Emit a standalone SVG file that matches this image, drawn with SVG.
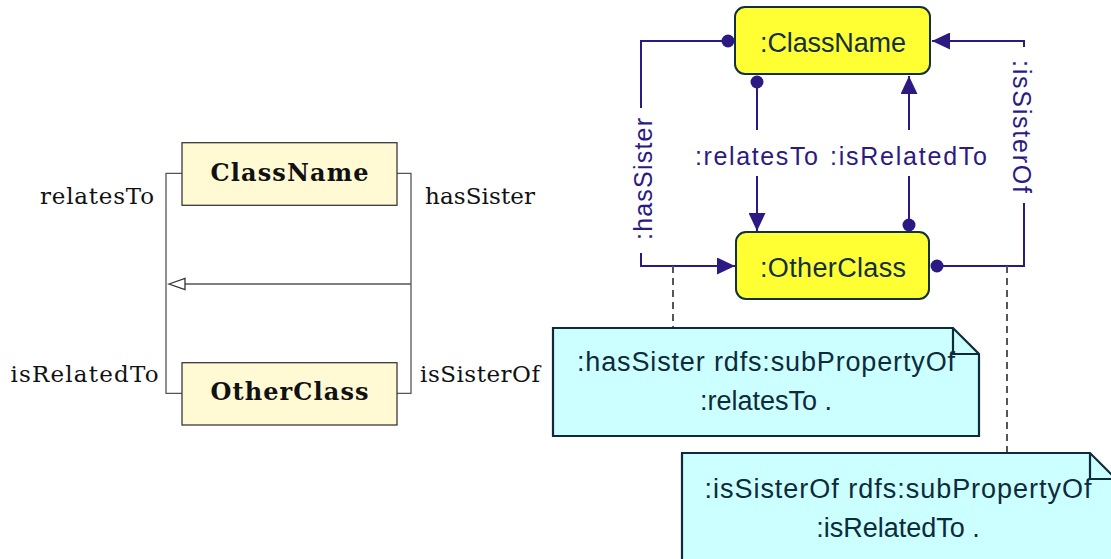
<svg xmlns="http://www.w3.org/2000/svg" width="1111" height="559" viewBox="0 0 1111 559">
<style>
.umlbox{fill:#fffad4;stroke:#3a3a3a;stroke-width:1.3}
.umlline{fill:none;stroke:#555;stroke-width:1.3}
.serif{font-family:"DejaVu Serif","Liberation Serif",serif;font-size:23px;fill:#111}
.serifb{font-family:"DejaVu Serif","Liberation Serif",serif;font-size:24px;font-weight:bold;fill:#111}
.node{fill:#ffff33;stroke:#12303e;stroke-width:2}
.ntext{font-family:"Liberation Sans",Arial,sans-serif;font-size:27px;fill:#12303e;text-anchor:middle}
.conn{fill:none;stroke:#2c1a82;stroke-width:2}
.dot{fill:#2c1a82}
.lbl{font-family:"Liberation Sans",Arial,sans-serif;font-size:25px;fill:#2c1a82;text-anchor:middle}
.dash{fill:none;stroke:#555;stroke-width:2;stroke-dasharray:7,5}
.note{fill:#ccffff;stroke:#0d2b3b;stroke-width:2.2}
.fold{fill:none;stroke:#0d2b3b;stroke-width:2.2}
.notetext{font-family:"Liberation Sans",Arial,sans-serif;font-size:27px;fill:#0d2b3b;text-anchor:middle}
</style>
<defs>
<marker id="arr" markerUnits="userSpaceOnUse" markerWidth="18" markerHeight="17" refX="18" refY="8.5" orient="auto">
<path d="M0,0 L18,8.5 L0,17 Z" fill="#2c1a82"/>
</marker>
</defs>

<!-- left UML diagram -->
<g id="uml-connectors">
<path class="umlline" d="M182,173.3 H166 V393.3 H182"/>
<path class="umlline" d="M397,173.3 H411 V393.3 H397"/>
<path class="umlline" d="M411,284 H185"/>
<path d="M169,284 L185,278.5 L185,289.5 Z" fill="#fff" stroke="#333" stroke-width="1.3"/>
<text class="serif" x="154" y="204" text-anchor="end" textLength="114">relatesTo</text>
<text class="serif" x="425" y="204" textLength="110">hasSister</text>
<text class="serif" x="158.5" y="382" text-anchor="end" textLength="148">isRelatedTo</text>
<text class="serif" x="420" y="382" textLength="120">isSisterOf</text>
</g>
<g id="uml-ClassName">
<rect class="umlbox" x="182" y="142.7" width="215" height="62.6"/>
<text class="serifb" x="289.5" y="181" text-anchor="middle" textLength="158">ClassName</text>
</g>
<g id="uml-OtherClass">
<rect class="umlbox" x="182" y="362.7" width="215" height="62.3"/>
<text class="serifb" x="289.5" y="400" text-anchor="middle" textLength="158">OtherClass</text>
</g>

<!-- right instance diagram -->
<g id="connectors">
<path class="conn" d="M728,41 H641 V108"/>
<path class="conn" d="M641,253 V266 H735" marker-end="url(#arr)"/>
<circle class="dot" cx="728" cy="41" r="6.5"/>
<text class="lbl" transform="translate(652,179) rotate(-90)" textLength="122">:hasSister</text>

<path class="conn" d="M757,82 V130"/>
<path class="conn" d="M757,176 V231" marker-end="url(#arr)"/>
<circle class="dot" cx="757" cy="82" r="6.5"/>
<text class="lbl" x="756.5" y="165" textLength="123">:relatesTo</text>

<path class="conn" d="M909,225 V176"/>
<path class="conn" d="M909,130 V76" marker-end="url(#arr)"/>
<circle class="dot" cx="909" cy="225" r="6.5"/>
<text class="lbl" x="908.5" y="165" textLength="157">:isRelatedTo</text>

<path class="conn" d="M937,266 H1024 V203"/>
<path class="conn" d="M1024,47 V41 H932" marker-end="url(#arr)"/>
<circle class="dot" cx="937" cy="266" r="6.5"/>
<text class="lbl" transform="translate(1013,126.5) rotate(90)" textLength="133">:isSisterOf</text>

<path class="dash" d="M673,266 V327"/>
<path class="dash" d="M1007,266 V453"/>
</g>
<g id="node-ClassName">
<rect class="node" x="735" y="7" width="195" height="67" rx="10"/>
<text class="ntext" x="833" y="52" textLength="146">:ClassName</text>
</g>
<g id="node-OtherClass">
<rect class="node" x="736" y="232" width="193" height="67" rx="10"/>
<text class="ntext" x="833" y="277" textLength="146">:OtherClass</text>
</g>
<g id="note-hasSister">
<path class="note" d="M553,328 H953 L979,354 V436 H553 Z"/>
<path class="fold" d="M953,328 V354 H979"/>
<text class="notetext" x="766" y="371" textLength="378">:hasSister rdfs:subPropertyOf</text>
<text class="notetext" x="766" y="410">:relatesTo .</text>
</g>
<g id="note-isSisterOf">
<path class="note" d="M682,453 H1090 L1116,479 V575 H682 Z"/>
<path class="fold" d="M1090,453 V479 H1116"/>
<text class="notetext" x="898" y="498" textLength="387">:isSisterOf rdfs:subPropertyOf</text>
<text class="notetext" x="898" y="537">:isRelatedTo .</text>
</g>
</svg>
